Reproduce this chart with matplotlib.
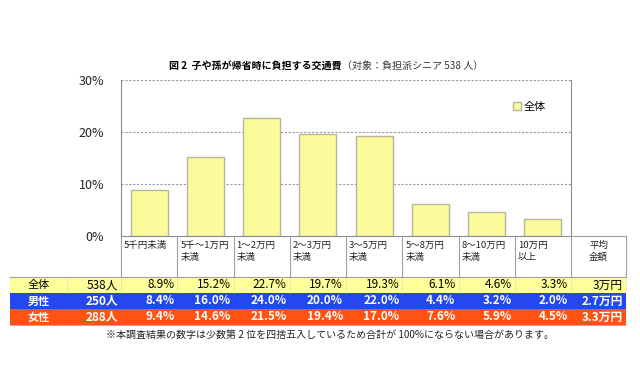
import matplotlib
matplotlib.use("Agg")
import matplotlib.pyplot as plt
from matplotlib.patches import Rectangle

plt.rcParams['font.family'] = ['Noto Sans CJK JP', 'DejaVu Sans']

categories = ["5千円未満", "5千～1万円\n未満", "1～2万円\n未満", "2～3万円\n未満",
              "3～5万円\n未満", "5～8万円\n未満", "8～10万円\n未満", "10万円\n以上"]
overall = [8.9, 15.2, 22.7, 19.7, 19.3, 6.1, 4.6, 3.3]
male = [8.4, 16.0, 24.0, 20.0, 22.0, 4.4, 3.2, 2.0]
female = [9.4, 14.6, 21.5, 19.4, 17.0, 7.6, 5.9, 4.5]
row_names = ["全体", "男性", "女性"]
row_counts = ["538人", "250人", "288人"]
row_avg = ["3万円", "2.7万円", "3.3万円"]
avg_header = "平均\n金額"
yticks = [0, 10, 20, 30]
title = "図 2  子や孫が帰省時に負担する交通費"
title_sub = "（対象：負担派シニア 538 人）"
legend_label = "全体"
note = "※本調査結果の数字は少数第 2 位を四捨五入しているため合計が 100%にならない場合があります。"

W, H = 640, 392
fig = plt.figure(figsize=(W / 100, H / 100), dpi=100)

# pixel geometry
ax_left, ax_right, ax_top, ax_bottom = 121, 571, 80, 236
ax = fig.add_axes([ax_left / W, 1 - ax_bottom / H, (ax_right - ax_left) / W, (ax_bottom - ax_top) / H])
x = list(range(len(categories)))
bar_color = "#FBFB9C"
ax.bar(x, overall, width=0.66, color=bar_color, edgecolor="#B5B59A", linewidth=1.0,
       label=legend_label, zorder=3)
ax.set_xlim(-0.5, len(categories) - 0.5)
ax.set_ylim(0, 30)
ax.set_yticks(yticks)
ax.set_yticklabels([f"{v}%" for v in yticks], fontsize=9, color="#222222")
ax.tick_params(axis='y', length=0, pad=12)
ax.set_xticks([])
for v in yticks[1:]:
    ax.axhline(v, color="#9A9A9A", lw=0.8, ls=(0, (2, 1.5)), zorder=1)
ax.spines["top"].set_visible(False)
for s in ["left", "right", "bottom"]:
    ax.spines[s].set_color("#8C8C8C")
leg = ax.legend(loc="center right", bbox_to_anchor=(0.955, 0.83), frameon=False, fontsize=8,
                handlelength=0.7, handleheight=0.7, handletextpad=0.3, borderaxespad=0)

# overlay for title and table (pixel coordinates)
ov = fig.add_axes([0, 0, 1, 1])
ov.set_xlim(0, W)
ov.set_ylim(H, 0)
ov.axis("off")
ov.patch.set_alpha(0)

ov.text(342, 66, title, ha="right", va="center", fontsize=7.2, fontweight="bold")
ov.text(342, 66, title_sub, ha="left", va="center", fontsize=7.2, color="#333333")

colw = (ax_right - ax_left) / len(categories)
col_edges = [ax_left + i * colw for i in range(len(categories) + 1)] + [626]
lab_left, cnt_left = 10, 67
hdr_top, hdr_bot = 236, 277
row_h = 16
row_colors = ["#FFFF99", "#2447F0", "#FF5314"]
text_colors = ["black", "white", "white"]
grid_c = "#A0A0A0"

# header labels
for i, c in enumerate(categories):
    ov.text(col_edges[i] + 3, hdr_top + 5, c, ha="left", va="top", fontsize=6.8,
            linespacing=1.4, color="#222222")
ov.text((col_edges[-2] + col_edges[-1]) / 2, hdr_top + 5, avg_header, ha="center", va="top",
        fontsize=6.8, linespacing=1.4, color="#222222")
for xe in col_edges[:-1]:
    ov.plot([xe, xe], [hdr_top, hdr_bot], color=grid_c, lw=0.8)
ov.plot([ax_right, col_edges[-1]], [hdr_top, hdr_top], color=grid_c, lw=0.8)
ov.plot([col_edges[-1], col_edges[-1]], [hdr_top, hdr_bot], color=grid_c, lw=0.8)

rows = [overall, male, female]
for r, vals in enumerate(rows):
    y0 = hdr_bot + r * row_h
    ov.add_patch(Rectangle((lab_left, y0), col_edges[-1] - lab_left, row_h,
                           facecolor=row_colors[r], edgecolor="none"))
    tc = text_colors[r]
    fw = "normal" if r == 0 else "bold"
    yc = y0 + row_h / 2
    ov.text((lab_left + cnt_left) / 2, yc, row_names[r], ha="center", va="center",
            fontsize=8, color=tc, fontweight=fw)
    ov.text(ax_left - 3, yc, row_counts[r], ha="right", va="center", fontsize=8.5,
            color=tc, fontweight=fw)
    for i, v in enumerate(vals):
        ov.text(col_edges[i + 1] - 3, yc, f"{v:.1f}%", ha="right", va="center",
                fontsize=8.5, color=tc, fontweight=fw)
    ov.text(col_edges[-1] - 3, yc, row_avg[r], ha="right", va="center", fontsize=8.5,
            color=tc, fontweight=fw)
    if r == 0:
        for xe in [cnt_left] + col_edges[:-1] + [col_edges[-1]]:
            ov.plot([xe, xe], [y0, y0 + row_h], color="#C8C8C8", lw=0.5, alpha=0.6)
ov.plot([lab_left, col_edges[-1]], [hdr_bot, hdr_bot], color=grid_c, lw=0.8)
ov.plot([lab_left, col_edges[-1]], [hdr_bot + 3 * row_h, hdr_bot + 3 * row_h], color=grid_c, lw=0.6)

ov.text(col_edges[-1] - 72, 335, note, ha="right", va="center", fontsize=7.2, color="#222222")

fig.savefig("out.png", dpi=100)
